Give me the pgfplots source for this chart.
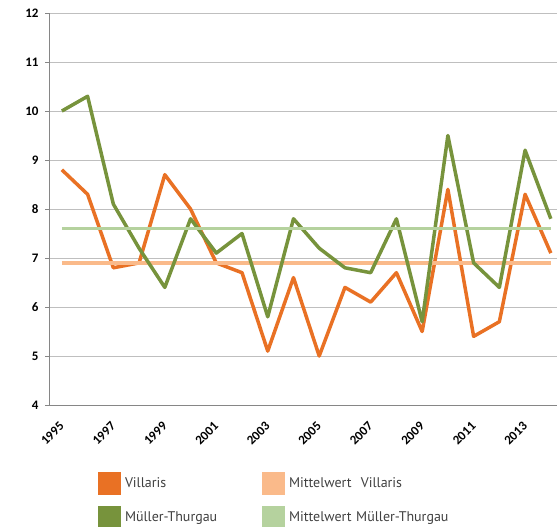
\documentclass[border=0pt]{standalone}
\usepackage{pgfplots}
\pgfplotsset{compat=1.18}
\usepackage{fontspec}
\setmainfont{Carlito}[BoldFont={Carlito Bold}]
\newfontfamily\legfont{PT Sans}
\definecolor{cOr}{RGB}{233,113,36}
\definecolor{cGr}{RGB}{119,147,60}
\definecolor{cOrL}{RGB}{250,186,138}
\definecolor{cGrL}{RGB}{181,210,158}
\definecolor{cGrid}{RGB}{191,191,191}
\definecolor{cAx}{RGB}{134,134,134}
\definecolor{cTxt}{RGB}{64,64,64}
\pgfplotstableread{
x  vil   mt
0  8.8  10.0
1  8.3  10.3
2  6.8   8.1
3  6.9   7.2
4  8.7   6.4
5  8.0   7.8
6  6.9   7.1
7  6.7   7.5
8  5.1   5.8
9  6.6   7.8
10 5.0   7.2
11 6.4   6.8
12 6.1   6.7
13 6.7   7.8
14 5.5   5.7
15 8.4   9.5
16 5.4   6.9
17 5.7   6.4
18 8.3   9.2
19 7.1   7.8
}\data
\newcommand\tlfont{\bfseries\fontsize{13}{15}\selectfont}
\begin{document}
\begin{tikzpicture}
\useasboundingbox (0,0) rectangle (557pt,-527pt);
\begin{axis}[
  at={(49pt,-405pt)}, anchor=south west,
  scale only axis, width=508pt, height=392pt,
  xmin=-0.5, xmax=19.24, ymin=4, ymax=12,
  axis x line=bottom, axis y line=left,
  axis line style={cAx, line width=0.8pt, -},
  ytick={4,...,12},
  ymajorgrids, major grid style={cGrid, line width=0.8pt},
  y tick style={cAx, line width=0.8pt},
  major tick length=4pt,
  tick align=outside,
  xtick={0,2,...,18},
  xticklabels={1995,1997,1999,2001,2003,2005,2007,2009,2011,2013},
  x tick style={draw=none},
  minor xtick={-0.5,0.5,...,19.5},
  minor x tick style={cAx, line width=0.8pt},
  minor tick length=4pt,
  /pgf/number format/assume math mode=true,
  yticklabel style={font=\tlfont, text=black, xshift=-3pt},
  xticklabel style={font=\tlfont, text=black, inner sep=0pt, xshift=0pt, yshift=-15pt, rotate=45, anchor=east},
  legend columns=2,
  legend style={draw=none, fill=none, inner sep=0pt, outer sep=0pt,
    at={(0.0965,-0.171)}, anchor=north west,
    nodes={inner sep=0pt, text width=137pt, align=left, font=\legfont\fontsize{14}{16}\selectfont, text=cTxt},
    /tikz/every odd column/.style={column sep=4pt},
    row sep=11pt},
  legend cell align=left,
  legend image code/.code={\fill[#1, draw=none] (0pt,-11.5pt) rectangle (23pt,11.5pt);},
]
\addplot[cOr, line width=3.5pt, line join=round] table[x=x, y=vil] {\data};
\addlegendentry{Villaris}
\addplot[cOrL, line width=3.5pt] coordinates {(0,6.9) (19,6.9)};
\addlegendentry{\mbox{Mittelwert\ \ Villaris}}
\addplot[cGr, line width=3.5pt, line join=round] table[x=x, y=mt] {\data};
\addlegendentry{Müller-Thurgau}
\addplot[cGrL, line width=3.5pt] coordinates {(0,7.6) (19,7.6)};
\addlegendentry{\mbox{Mittelwert Müller-Thurgau}}
\end{axis}
\end{tikzpicture}
\end{document}
